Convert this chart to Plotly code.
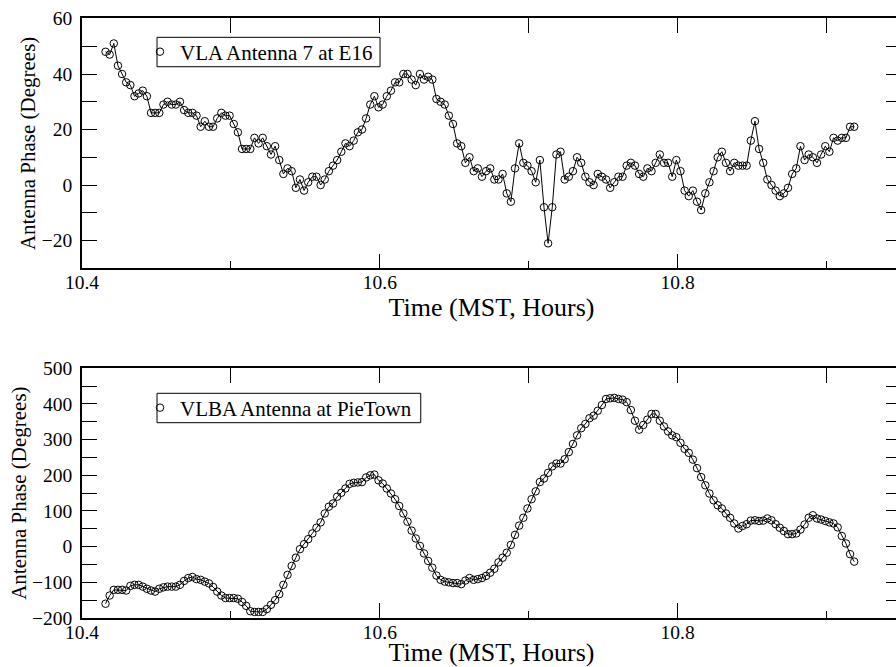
import numpy as np
import plotly.graph_objects as go

# ---------------- data ----------------
T0_HOURS = 10.4158          # first sample, MST hours
STEP_SECONDS = 10           # sampling interval
N_SAMPLES = 182

vla_phase = [48, 47, 51, 43, 40, 37, 36, 32, 33, 34,
             32, 26, 26, 26, 29, 30, 29, 29, 30, 27,
             26, 26, 25, 21, 23, 21, 21, 24, 26, 25,
             25, 22, 19, 13, 13, 13, 17, 15, 17, 14,
             11, 14, 9, 4, 6, 5, -1, 2, -2, 1,
             3, 3, 0, 2, 5, 7, 9, 12, 15, 14,
             16, 19, 20, 24, 29, 32, 28, 29, 32, 34,
             37, 37, 40, 40, 38, 36, 40, 38, 39, 38,
             31, 30, 29, 25, 22, 15, 14, 8, 10, 5,
             6, 3, 5, 6, 2, 2, 4, -3, -6, 6,
             15, 8, 7, 5, 1, 9, -8, -21, -8, 11,
             12, 2, 3, 5, 10, 8, 3, 1, 0, 4,
             3, 2, -1, 1, 3, 3, 7, 8, 7, 4,
             3, 6, 5, 8, 11, 8, 8, 3, 9, 5,
             -2, -4, -2, -6, -9, -3, 1, 5, 10, 12,
             8, 5, 8, 7, 7, 7, 16, 23, 13, 8,
             2, 0, -2, -4, -3, -1, 4, 6, 14, 9,
             11, 10, 8, 11, 14, 12, 17, 16, 17, 17,
             21, 21]

vlba_phase = [-160, -137, -121, -121, -121, -123, -110, -107, -107, -112,
              -118, -123, -126, -118, -114, -112, -112, -112, -107, -96,
              -88, -85, -91, -93, -98, -103, -113, -126, -137, -144,
              -144, -144, -146, -155, -166, -181, -183, -183, -183, -175,
              -163, -150, -133, -107, -79, -54, -31, -7, 7, 21,
              37, 53, 68, 93, 112, 121, 140, 151, 163, 176,
              179, 180, 181, 194, 200, 202, 186, 177, 163, 149,
              133, 114, 93, 70, 45, 23, 2, -19, -40, -59,
              -81, -93, -98, -100, -102, -102, -105, -95, -88, -93,
              -91, -88, -82, -73, -62, -44, -31, -17, 5, 33,
              59, 81, 107, 133, 155, 181, 191, 207, 225, 233,
              233, 245, 265, 288, 312, 332, 344, 360, 367, 381,
              397, 414, 416, 417, 414, 412, 405, 383, 353, 328,
              341, 356, 372, 372, 353, 337, 323, 312, 307, 291,
              274, 263, 244, 220, 195, 172, 149, 130, 116, 107,
              93, 81, 65, 51, 58, 63, 73, 74, 72, 73,
              79, 74, 63, 53, 44, 35, 35, 37, 48, 62,
              81, 88, 79, 76, 72, 68, 65, 54, 30, 9,
              -21, -42]

time_hours = T0_HOURS + np.arange(N_SAMPLES) * STEP_SECONDS / 3600.0

series_names = ["VLA Antenna 7 at E16", "VLBA Antenna at PieTown"]
x_title = "Time (MST, Hours)"
y_title = "Antenna Phase (Degrees)"
x_range = [10.4, 10.95]
y_range_top = [-30, 60]
y_range_bottom = [-200, 500]

# ---------------- figure ----------------
FONT = "Liberation Serif"
fig = go.Figure()

marker = dict(symbol="circle-open", size=7.5, color="black", line=dict(width=1, color="black"))
line = dict(color="black", width=1)

# connecting lines (no legend entry)
fig.add_trace(go.Scatter(x=time_hours, y=vla_phase, mode="lines", line=line,
                         showlegend=False, hoverinfo="skip", xaxis="x", yaxis="y"))
fig.add_trace(go.Scatter(x=time_hours, y=vlba_phase, mode="lines", line=line,
                         showlegend=False, hoverinfo="skip", xaxis="x2", yaxis="y2"))
# markers (legend entries show only the circle)
fig.add_trace(go.Scatter(x=time_hours, y=vla_phase, mode="markers",
                         name=series_names[0], marker=marker,
                         xaxis="x", yaxis="y", legend="legend"))
fig.add_trace(go.Scatter(x=time_hours, y=vlba_phase, mode="markers",
                         name=series_names[1], marker=marker,
                         xaxis="x2", yaxis="y2", legend="legend2"))
# dummy traces so the top tick-axes are drawn
fig.add_trace(go.Scatter(x=[None], y=[None], xaxis="x3", yaxis="y",
                         showlegend=False, hoverinfo="skip"))
fig.add_trace(go.Scatter(x=[None], y=[None], xaxis="x4", yaxis="y2",
                         showlegend=False, hoverinfo="skip"))

tickfont = dict(family=FONT, size=19.5, color="black")
base = dict(showline=True, linecolor="black", linewidth=1.5, ticks="inside",
            tickcolor="black", tickwidth=1.3, ticklen=15, showgrid=False,
            zeroline=False, tickfont=tickfont)

xcommon = dict(base, range=x_range, tick0=10.4, dtick=0.2, tickformat=".1f",
               ticklabelstandoff=-4,
               minor=dict(dtick=0.1, tick0=10.4, ticks="inside", ticklen=7.5,
                          tickcolor="black", tickwidth=1.3, showgrid=False),
               title=dict(text=x_title, font=dict(family=FONT, size=26, color="black"),
                          standoff=0))
xtop = dict(showline=True, linecolor="black", linewidth=1.5, ticks="inside",
            tickcolor="black", tickwidth=1.3, ticklen=15, showgrid=False,
            zeroline=False, range=x_range, tick0=10.4, dtick=0.1,
            showticklabels=False, side="top")

ytitle = dict(text=y_title, font=dict(family=FONT, size=21, color="black"), standoff=0)

legend_common = dict(xanchor="left", yanchor="middle", bgcolor="rgba(0,0,0,0)",
                     borderwidth=0, font=dict(family=FONT, size=21, color="black"),
                     itemwidth=30, tracegroupgap=0)

box_line = dict(color="black", width=1)

fig.update_layout(
    width=901, height=667,
    margin=dict(l=82, r=0, t=18, b=49, autoexpand=False),
    paper_bgcolor="white", plot_bgcolor="white",
    font=dict(family=FONT, color="black"),
    xaxis=dict(xcommon, anchor="y", domain=[0, 1]),
    xaxis2=dict(xcommon, anchor="y2", domain=[0, 1]),
    xaxis3=dict(xtop, overlaying="x", anchor="y"),
    xaxis4=dict(xtop, overlaying="x2", anchor="y2"),
    yaxis=dict(base, domain=[0.5828, 0.9992], range=y_range_top, tick0=0, dtick=20,
               mirror="allticks", ticklabelstandoff=4,
               minor=dict(dtick=10, ticks="inside", ticklen=7.5, tickcolor="black",
                          tickwidth=1.3, showgrid=False),
               title=ytitle),
    yaxis2=dict(base, domain=[0.0, 0.4162], range=y_range_bottom, tick0=0, dtick=100,
                mirror="allticks", ticklabelstandoff=4,
                minor=dict(dtick=50, ticks="inside", ticklen=7.5, tickcolor="black",
                           tickwidth=1.3, showgrid=False),
                title=ytitle),
    legend=dict(legend_common, x=0.0708, y=0.9433),
    legend2=dict(legend_common, x=0.0708, y=0.35),
    shapes=[
        dict(type="rect", xref="paper", yref="paper", x0=0.0916, x1=0.3639,
             y0=0.9188, y1=0.9678, line=box_line, fillcolor="rgba(0,0,0,0)"),
        dict(type="rect", xref="paper", yref="paper", x0=0.0916, x1=0.4136,
             y0=0.3255, y1=0.3745, line=box_line, fillcolor="rgba(0,0,0,0)"),
    ],
    showlegend=True,
)

fig.write_html(
    "out.html",
    config={"displayModeBar": False},
    post_script=("document.body.style.margin='0';"
                 "document.body.style.overflow='hidden';"
                 "document.documentElement.style.overflow='hidden';"),
)
